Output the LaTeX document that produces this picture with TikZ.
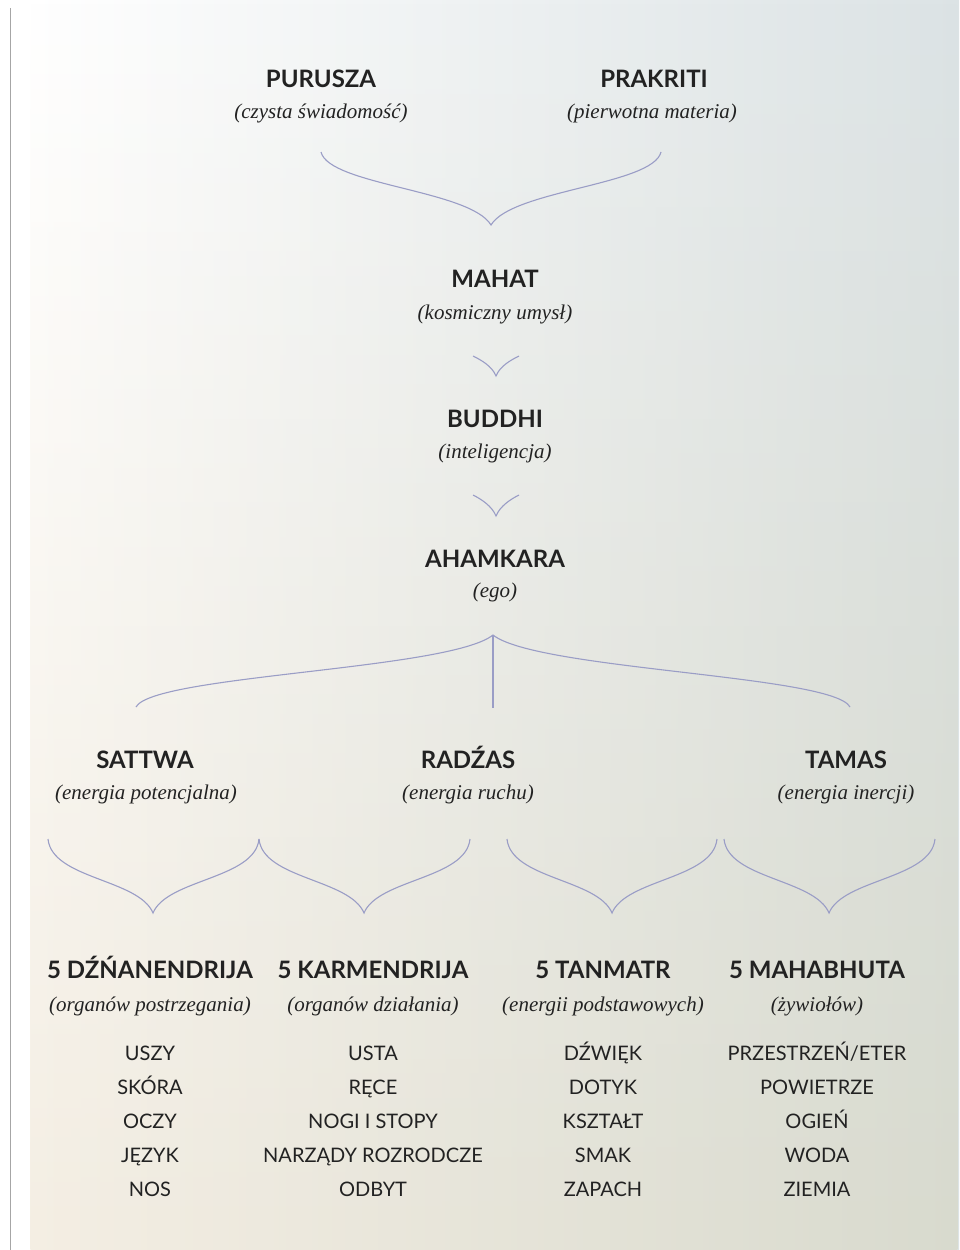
\documentclass[tikz,border=0pt]{standalone}
\usepackage{fontspec}
\setsansfont{Lato}
\newfontfamily\subfont{Liberation Serif}
\usepackage{xcolor}
\usepackage{tikz}
\usetikzlibrary{fadings}
\definecolor{ink}{HTML}{222222}
\definecolor{lav}{HTML}{9A9DC6}
\definecolor{bgtr}{HTML}{DCE3E5}
\definecolor{bgbl}{HTML}{F4EEE3}
\definecolor{bgbr}{HTML}{D8DACE}

\begin{document}
\begin{tikzpicture}[x=1pt, y=-1pt,
  head/.style={font=\sffamily\bfseries\fontsize{24}{28}\selectfont, text=ink, anchor=base, inner sep=0pt},
  sub/.style={font=\subfont\itshape\fontsize{21}{25}\selectfont, text=ink, anchor=base, inner sep=0pt},
  item/.style={font=\sffamily\fontsize{20}{24}\selectfont, text=ink, anchor=base, inner sep=0pt},
  brace/.style={lav, line width=1.1pt}]
\useasboundingbox (0,0) rectangle (959,1250);
\shade[left color=white, right color=bgtr] (31,0) rectangle (959,1250);
\shade[left color=bgbl, right color=bgbr, path fading=north] (31,0) rectangle (959,1250);
\draw[black!35, line width=1.4pt] (10.5,8) -- (10.5,1250);

\node[head] (purusza) at (321,87) {PURUSZA};
\node[sub] (puruszaSub) at (321,118) {(czysta świadomość)};
\node[head] (prakriti) at (654,87) {PRAKRITI};
\node[sub] (prakritiSub) at (652,118) {(pierwotna materia)};

\node[head] (mahat) at (495,287) {MAHAT};
\node[sub] (mahatSub) at (495,319) {(kosmiczny umysł)};
\node[head] (buddhi) at (495,427) {BUDDHI};
\node[sub] (buddhiSub) at (495,458) {(inteligencja)};
\node[head] (ahamkara) at (495,567) {AHAMKARA};
\node[sub] (ahamkaraSub) at (495,597) {(ego)};

\node[head] (sattwa) at (145,768) {SATTWA};
\node[sub] (sattwaSub) at (146,799) {(energia potencjalna)};
\node[head] (radzas) at (468,768) {RADŹAS};
\node[sub] (radzasSub) at (468,799) {(energia ruchu)};
\node[head] (tamas) at (846,768) {TAMAS};
\node[sub] (tamasSub) at (846,799) {(energia inercji)};

\node[head] (dzn) at (150,978) {5 DŹŃANENDRIJA};
\node[sub] (dznSub) at (150,1011) {(organów postrzegania)};
\node[head] (karm) at (373,978) {5 KARMENDRIJA};
\node[sub] (karmSub) at (373,1011) {(organów działania)};
\node[head] (tanm) at (603,978) {5 TANMATR};
\node[sub] (tanmSub) at (603,1011) {(energii podstawowych)};
\node[head] (mahab) at (817,978) {5 MAHABHUTA};
\node[sub] (mahabSub) at (817,1011) {(żywiołów)};

\node[item] (dzn1) at (150,1060) {USZY};
\node[item] (dzn2) at (150,1094) {SKÓRA};
\node[item] (dzn3) at (150,1128) {OCZY};
\node[item] (dzn4) at (150,1162) {JĘZYK};
\node[item] (dzn5) at (150,1196) {NOS};
\node[item] (karm1) at (373,1060) {USTA};
\node[item] (karm2) at (373,1094) {RĘCE};
\node[item] (karm3) at (373,1128) {NOGI I STOPY};
\node[item] (karm4) at (373,1162) {NARZĄDY ROZRODCZE};
\node[item] (karm5) at (373,1196) {ODBYT};
\node[item] (tanm1) at (603,1060) {DŹWIĘK};
\node[item] (tanm2) at (603,1094) {DOTYK};
\node[item] (tanm3) at (603,1128) {KSZTAŁT};
\node[item] (tanm4) at (603,1162) {SMAK};
\node[item] (tanm5) at (603,1196) {ZAPACH};
\node[item] (mahab1) at (817,1060) {PRZESTRZEŃ/ETER};
\node[item] (mahab2) at (817,1094) {POWIETRZE};
\node[item] (mahab3) at (817,1128) {OGIEŃ};
\node[item] (mahab4) at (817,1162) {WODA};
\node[item] (mahab5) at (817,1196) {ZIEMIA};

\coordinate (b1l) at (321,152);
\coordinate (b1t) at (491,225);
\coordinate (b1r) at (661,152);
\draw[brace] (b1l) .. controls +(8,33) and +(-21,-35) .. (b1t) .. controls +(21,-35) and +(-8,33) .. (b1r);

\coordinate (b2l) at (473,356);
\coordinate (b2t) at (496,376);
\coordinate (b2r) at (519,356);
\draw[brace] (b2l) .. controls +(8,4) and +(-4,-10) .. (b2t) .. controls +(4,-10) and +(-8,4) .. (b2r);

\coordinate (b3l) at (473,495);
\coordinate (b3t) at (496,516);
\coordinate (b3r) at (519,495);
\draw[brace] (b3l) .. controls +(8,4) and +(-4,-10) .. (b3t) .. controls +(4,-10) and +(-8,4) .. (b3r);

\coordinate (b4l) at (136,707);
\coordinate (b4t) at (493,635);
\coordinate (b4r) at (850,707);
\coordinate (b4m) at (493,708);
\draw[brace] (b4l) .. controls +(17,-32) and +(-44,35) .. (b4t) .. controls +(44,35) and +(-17,-32) .. (b4r);
\draw[brace] (b4t) -- (b4m);

\coordinate (c1l) at (48,839);
\coordinate (c1t) at (153,913);
\coordinate (c1r) at (259,839);
\coordinate (c2t) at (364,913);
\coordinate (c2r) at (470,839);
\coordinate (c3l) at (507,839);
\coordinate (c3t) at (612,913);
\coordinate (c3r) at (717,839);
\coordinate (c4l) at (724,839);
\coordinate (c4t) at (829,913);
\coordinate (c4r) at (935,839);
\draw[brace] (c1l) .. controls +(4,40) and +(-14,-34) .. (c1t) .. controls +(14,-34) and +(-4,40) .. (c1r);
\draw[brace] (c1r) .. controls +(4,40) and +(-14,-34) .. (c2t) .. controls +(14,-34) and +(-4,40) .. (c2r);
\draw[brace] (c3l) .. controls +(4,40) and +(-14,-34) .. (c3t) .. controls +(14,-34) and +(-4,40) .. (c3r);
\draw[brace] (c4l) .. controls +(4,40) and +(-14,-34) .. (c4t) .. controls +(14,-34) and +(-4,40) .. (c4r);
\end{tikzpicture}
\end{document}
